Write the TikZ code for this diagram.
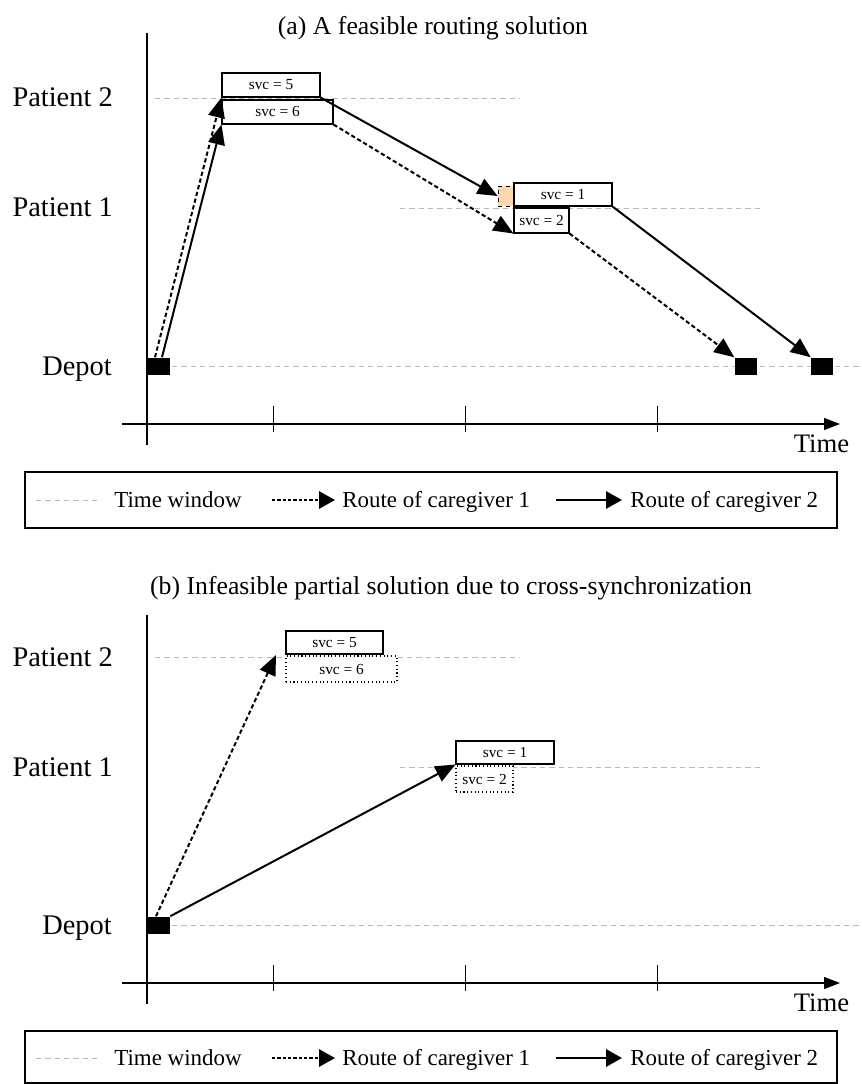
\documentclass[tikz,border=0pt]{standalone}
\usepackage{fontspec}
\setmainfont{Liberation Serif}
\usetikzlibrary{arrows.meta,calc}
\definecolor{waitfill}{RGB}{252,214,174}
\begin{document}
\begin{tikzpicture}[x=0.75pt,y=-0.75pt,
  lbl/.style={font=\fontsize{21.3}{24}\selectfont, inner sep=0, anchor=base east},
  ttl/.style={font=\fontsize{19.3}{22}\selectfont, inner sep=0, anchor=base},
  leg/.style={font=\fontsize{17.2}{20}\selectfont, inner sep=0},
  svcbox/.style={draw, fill=white, line width=0.8pt, inner sep=0, font=\fontsize{11.5}{13}\selectfont},
  svcdot/.style={svcbox, dotted},
  depot/.style={fill=black, inner sep=0, minimum width=16.5pt, minimum height=12.75pt},
  tw/.style={draw=gray!55, line width=0.5pt, dash pattern=on 4pt off 3pt},
  timeaxis/.style={line width=0.8pt, -{Triangle[length=12pt,width=9pt]}},
  tickmark/.style={line width=0.6pt},
  r1/.style={line width=1.5pt, dash pattern=on 3.2pt off 2pt, -{Triangle[length=15pt,width=12.5pt]}},
  r2/.style={line width=1.5pt, -{Triangle[length=15pt,width=12.5pt]}},
  legr1/.style={line width=1.6pt, dash pattern=on 2.5pt off 1.5pt, -{Triangle[length=12pt,width=13pt]}},
  legr2/.style={line width=1.6pt, -{Triangle[length=12pt,width=13pt]}},
]
\useasboundingbox (0,0) rectangle (861,1084);

% ---------------- panel (a) ----------------
\node[ttl] (ta) at (433,35) {(a) A feasible routing solution};

% time windows
\draw[tw] (155,98) -- (520,98);
\draw[tw] (400,208) -- (762,208);
\draw[tw] (172,366) -- (861,366);

% axes
\coordinate (ya0) at (147,33);
\coordinate (ya1) at (147,445);
\coordinate (xa0) at (122,424);
\coordinate (xa1) at (840,424);
\draw[line width=0.8pt] (ya0) -- (ya1);
\draw[timeaxis] (xa0) -- (xa1);
\foreach \x in {273,465,657} \draw[tickmark] (\x,406) -- (\x,432);
\node[lbl] (lp2a) at (113,107) {Patient 2};
\node[lbl] (lp1a) at (113,217) {Patient 1};
\node[lbl] (lda) at (112,375) {Depot};
\node[font=\fontsize{20}{24}\selectfont, inner sep=0, anchor=base] (timea) at (821.5,452) {Time};

% visits
\node[svcbox, minimum width=73.5pt, minimum height=18pt] (s5a) at (271,85) {svc = 5};
\node[svcbox, minimum width=83.25pt, minimum height=18pt] (s6a) at (277.5,112) {svc = 6};
\node[draw, dashed, line width=0.6pt, fill=waitfill, inner sep=0, minimum width=12pt, minimum height=15pt] (wa) at (506,196) {};
\node[svcbox, minimum width=73.5pt, minimum height=17.25pt] (s1a) at (563,194.5) {svc = 1};
\node[svcbox, minimum width=41.25pt, minimum height=18.75pt] (s2a) at (541.5,220.5) {svc = 2};
\node[depot] (d1a) at (159,366) {};
\node[depot] (d2a) at (745.5,366) {};
\node[depot] (d3a) at (822,366) {};

% routes
\draw[r1] ($(d1a.north)+(-4,0)$) -- (s5a.south west);
\draw[r2] ($(d1a.north)+(3,0)$) -- (s6a.south west);
\draw[r2] (s5a.south east) -- (wa.west);
\draw[r1] (s6a.south east) -- (s2a.south west);
\draw[r2] (s1a.south east) -- (d3a.north west);
\draw[r1] (s2a.south east) -- (d2a.north west);

% legend
\draw[line width=0.8pt] (25,472) rectangle (837,528);
\draw[tw] (36,500) -- (97,500);
\node[leg, anchor=base] (lga1) at (178,507) {Time window};
\coordinate (lga2s) at (272,500);
\coordinate (lga2e) at (335,500);
\draw[legr1] (lga2s) -- (lga2e);
\node[leg, anchor=base west] (lga2) at (342,507) {Route of caregiver 1};
\coordinate (lga3s) at (556,500);
\coordinate (lga3e) at (622,500);
\draw[legr2] (lga3s) -- (lga3e);
\node[leg, anchor=base west] (lga3) at (630,507) {Route of caregiver 2};

% ---------------- panel (b) ----------------
\node[ttl] (tb) at (451,594) {(b) Infeasible partial solution due to cross-synchronization};

\draw[tw] (155,657) -- (520,657);
\draw[tw] (400,767) -- (762,767);
\draw[tw] (172,925) -- (861,925);

\coordinate (yb0) at (147,615);
\coordinate (yb1) at (147,1004);
\coordinate (xb0) at (122,983);
\coordinate (xb1) at (840,983);
\draw[line width=0.8pt] (yb0) -- (yb1);
\draw[timeaxis] (xb0) -- (xb1);
\foreach \x in {273,465,657} \draw[tickmark] (\x,965) -- (\x,991);
\node[lbl] (lp2b) at (113,666) {Patient 2};
\node[lbl] (lp1b) at (113,776) {Patient 1};
\node[lbl] (ldb) at (112,934) {Depot};
\node[font=\fontsize{20}{24}\selectfont, inner sep=0, anchor=base] (timeb) at (821.5,1011) {Time};

\node[svcbox, minimum width=72.75pt, minimum height=17.25pt] (s5b) at (334.5,642.5) {svc = 5};
\node[svcdot, minimum width=83.25pt, minimum height=19.5pt] (s6b) at (341.5,669) {svc = 6};
\node[svcbox, minimum width=73.5pt, minimum height=17.25pt] (s1b) at (505,752.5) {svc = 1};
\node[svcdot, minimum width=42.75pt, minimum height=19.5pt] (s2b) at (484.5,779) {svc = 2};
\node[depot] (d1b) at (159,925) {};

\coordinate (endb1) at (276,655);
\draw[r1] ($(d1b.north)+(-3,0)$) -- (endb1);
\draw[r2] (d1b.north east) -- (s1b.south west);

\draw[line width=0.8pt] (25,1031) rectangle (837,1083);
\draw[tw] (36,1058) -- (97,1058);
\node[leg, anchor=base] (lgb1) at (178,1065) {Time window};
\coordinate (lgb2s) at (272,1058);
\coordinate (lgb2e) at (335,1058);
\draw[legr1] (lgb2s) -- (lgb2e);
\node[leg, anchor=base west] (lgb2) at (342,1065) {Route of caregiver 1};
\coordinate (lgb3s) at (556,1058);
\coordinate (lgb3e) at (622,1058);
\draw[legr2] (lgb3s) -- (lgb3e);
\node[leg, anchor=base west] (lgb3) at (630,1065) {Route of caregiver 2};
\end{tikzpicture}
\end{document}
